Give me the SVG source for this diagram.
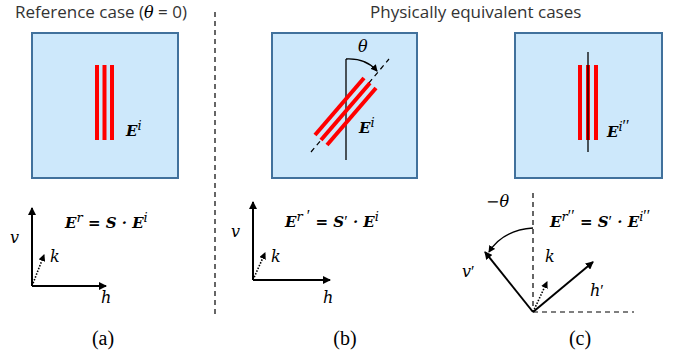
<svg xmlns="http://www.w3.org/2000/svg" width="689" height="358" viewBox="0 0 689 358">
<style>
.box{fill:#cde8fb;stroke:#41719c;stroke-width:2}
.red{stroke:#ff0000;stroke-width:4;fill:none}
.ln{stroke:#000;stroke-width:1.3;fill:none}
.ax{stroke:#000;stroke-width:2;fill:none}
.dash{stroke:#000;stroke-width:1.2;stroke-dasharray:5,4;fill:none}
.dot{stroke:#000;stroke-width:1.6;stroke-dasharray:1.5,1.5;fill:none}
.title{font-family:"Open Sans","Liberation Sans",sans-serif;font-size:17px;fill:#333}
.m{font-family:"DejaVu Serif","Liberation Serif",serif;font-style:italic;font-size:16px;fill:#000}
.mb{font-family:"DejaVu Serif","Liberation Serif",serif;font-style:italic;font-weight:bold;font-size:15px;fill:#000}
.sup{font-family:"DejaVu Serif","Liberation Serif",serif;font-style:italic;font-weight:normal;font-size:13px}
.pr{font-family:"Liberation Serif",serif;font-style:normal;font-weight:normal;font-size:16px}
.cap{font-family:"Liberation Serif",serif;font-size:20px;fill:#000}
</style>
<defs>
<marker id="ah" markerWidth="8" markerHeight="8" refX="7" refY="4" orient="auto" markerUnits="userSpaceOnUse"><path d="M0,0 L8,4 L0,8 Z" fill="#000"/></marker>
<marker id="ahs" markerWidth="7" markerHeight="7" refX="6" refY="3.5" orient="auto" markerUnits="userSpaceOnUse"><path d="M0,0 L7,3.5 L0,7 Z" fill="#000"/></marker>
</defs>

<text class="title" x="15" y="18">Reference case (<tspan class="m" font-size="16">θ</tspan> = 0)</text>
<text class="title" x="370" y="18">Physically equivalent cases</text>
<line class="dash" x1="215" y1="12" x2="215" y2="318"/>

<g id="panel-a">
<rect class="box" x="32" y="33" width="146" height="145"/>
<line class="red" x1="97" y1="65" x2="97" y2="140"/>
<line class="red" x1="104.5" y1="65" x2="104.5" y2="140"/>
<line class="red" x1="112" y1="65" x2="112" y2="140"/>
<text class="mb" x="126" y="136">E<tspan class="sup" dy="-6">i</tspan></text>
</g>

<g id="panel-b">
<rect class="box" x="272" y="33" width="145" height="145"/>
<line class="ln" x1="346" y1="59" x2="346" y2="160"/>
<line class="dash" x1="311" y1="152" x2="389" y2="59" stroke-dasharray="4,3"/>
<line class="red" x1="315" y1="135" x2="364" y2="78"/>
<line class="red" x1="321" y1="140" x2="370" y2="83"/>
<line class="red" x1="327" y1="145" x2="376" y2="88"/>
<path class="ln" d="M346,59 Q366,58 377,71" marker-end="url(#ahs)"/>
<text class="m" x="358" y="52">θ</text>
<text class="mb" x="359" y="133">E<tspan class="sup" dy="-6">i</tspan></text>
</g>

<g id="panel-c">
<rect class="box" x="515" y="33" width="147" height="145"/>
<line class="red" x1="580" y1="65" x2="580" y2="140"/>
<line class="red" x1="588" y1="65" x2="588" y2="140"/>
<line class="red" x1="596" y1="65" x2="596" y2="140"/>
<line class="ln" x1="588" y1="52" x2="588" y2="152"/>
<text class="mb" x="607" y="137">E<tspan class="sup" dy="-6">i<tspan class="pr">′′</tspan></tspan></text>
</g>

<g id="axes-a">
<line class="ax" x1="32" y1="286" x2="32" y2="208" marker-end="url(#ah)"/>
<line class="ax" x1="32" y1="286" x2="106" y2="286" marker-end="url(#ah)"/>
<line class="dot" x1="32" y1="286" x2="44" y2="255" marker-end="url(#ahs)"/>
<text class="m" x="10" y="243">v</text>
<text class="m" x="50" y="262">k</text>
<text class="m" x="101" y="303">h</text>
<text class="mb" x="65" y="228">E<tspan class="sup" dy="-6">r</tspan><tspan dy="6"> = S · E</tspan><tspan class="sup" dy="-6">i</tspan></text>
<text class="cap" x="103" y="345" text-anchor="middle">(a)</text>
</g>

<g id="axes-b">
<line class="ax" x1="253" y1="280" x2="253" y2="202" marker-end="url(#ah)"/>
<line class="ax" x1="253" y1="280" x2="330" y2="280" marker-end="url(#ah)"/>
<line class="dot" x1="253" y1="280" x2="265" y2="253" marker-end="url(#ahs)"/>
<text class="m" x="231" y="237">v</text>
<text class="m" x="271" y="262">k</text>
<text class="m" x="323" y="303">h</text>
<text class="mb" x="285" y="227">E<tspan class="sup" dy="-6">r <tspan class="pr">′</tspan></tspan><tspan dy="6"> = S<tspan class="pr">′</tspan> · E</tspan><tspan class="sup" dy="-6">i</tspan></text>
<text class="cap" x="345" y="345" text-anchor="middle">(b)</text>
</g>

<g id="axes-c">
<line class="dash" x1="533" y1="193" x2="533" y2="312"/>
<line class="dash" x1="533" y1="312" x2="634" y2="312"/>
<line class="ax" x1="533" y1="312" x2="485" y2="252" marker-end="url(#ah)"/>
<line class="ax" x1="533" y1="312" x2="593" y2="262" marker-end="url(#ah)"/>
<line class="dot" x1="533" y1="312" x2="547" y2="282" marker-end="url(#ahs)"/>
<path class="ln" d="M533,228 Q503,230 489,252" marker-end="url(#ahs)"/>
<text class="m" x="486" y="207">−θ</text>
<text class="m" x="462" y="277">v<tspan class="pr">′</tspan></text>
<text class="m" x="545" y="262">k</text>
<text class="m" x="590" y="296">h<tspan class="pr">′</tspan></text>
<text class="mb" x="550" y="227">E<tspan class="sup" dy="-6">r<tspan class="pr">′′</tspan></tspan><tspan dy="6"> = S<tspan class="pr">′</tspan> · E</tspan><tspan class="sup" dy="-6">i<tspan class="pr">′′</tspan></tspan></text>
<text class="cap" x="580" y="345" text-anchor="middle">(c)</text>
</g>
</svg>
